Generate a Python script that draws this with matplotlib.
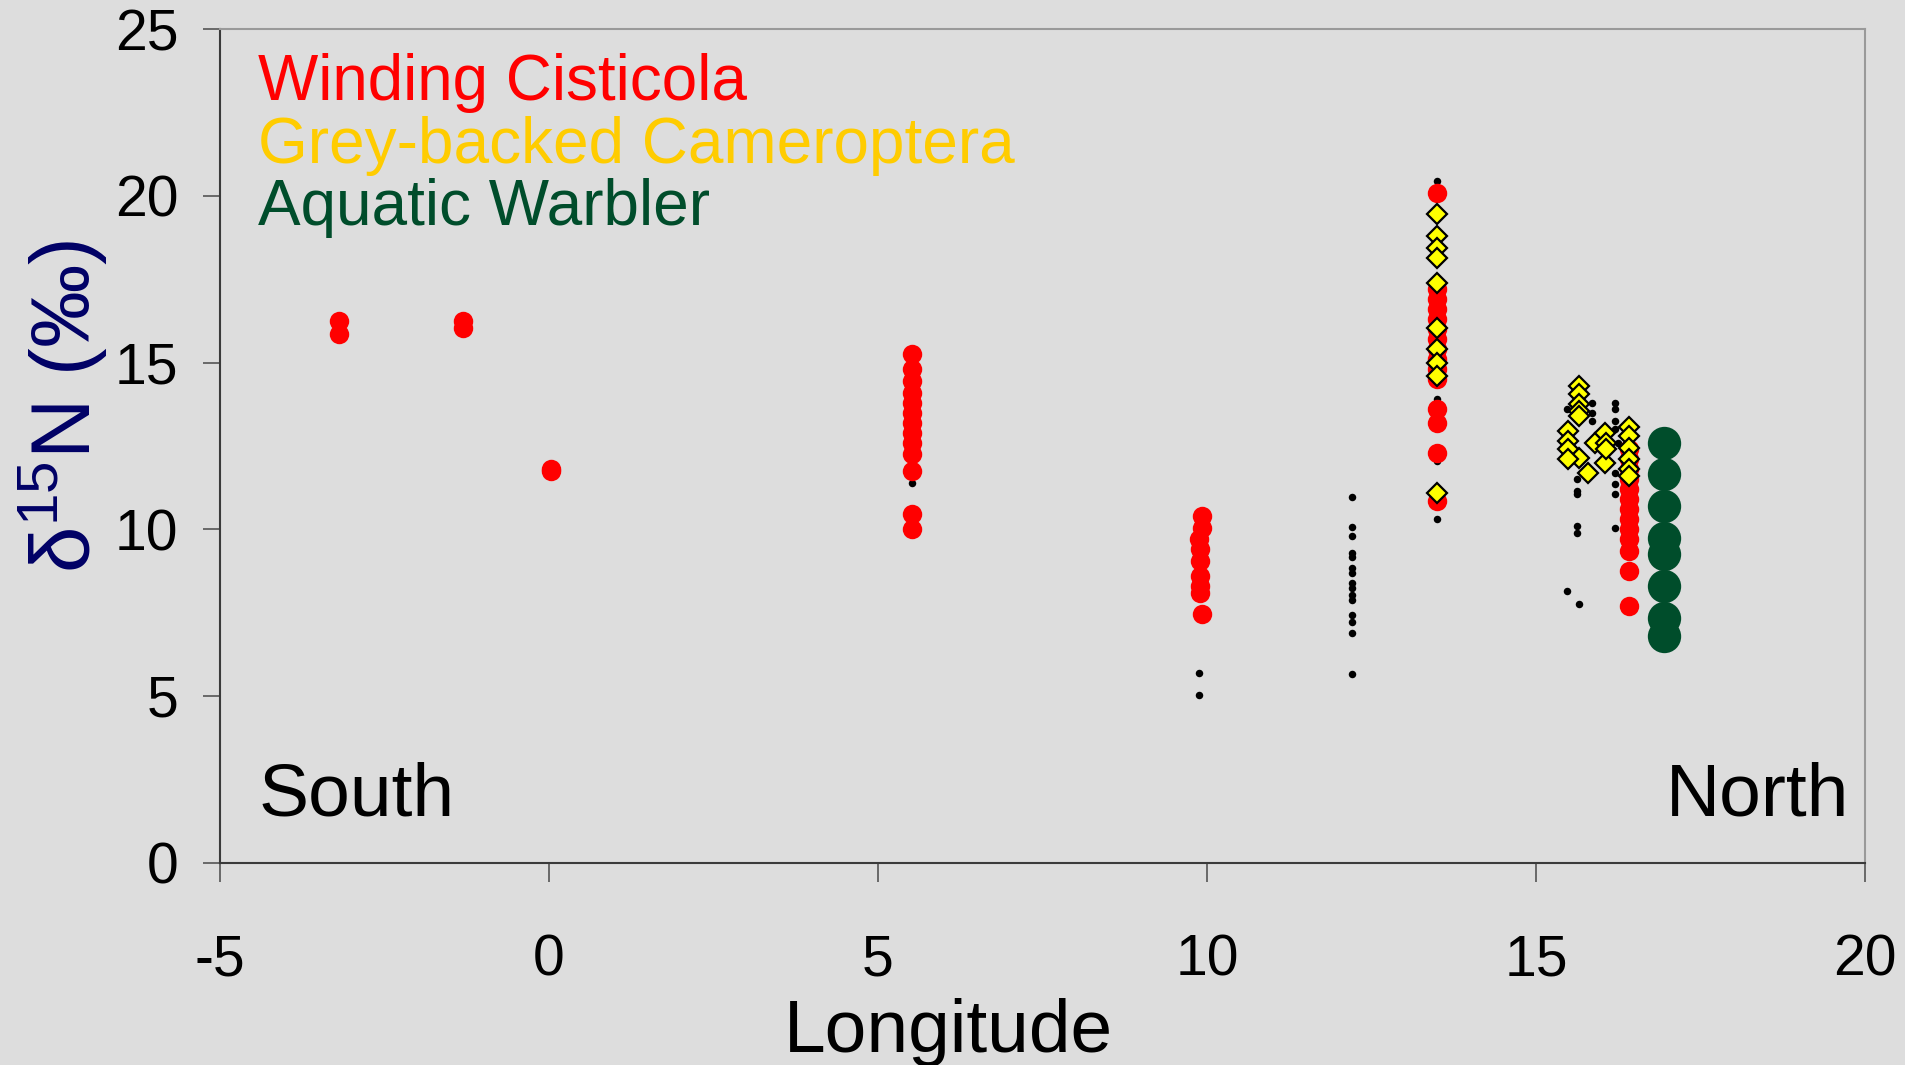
import matplotlib.pyplot as plt

plt.rcParams['font.family'] = ['Liberation Sans', 'DejaVu Sans']
plt.rcParams['mathtext.fontset'] = 'custom'
plt.rcParams['mathtext.rm'] = 'Liberation Sans'
plt.rcParams['axes.unicode_minus'] = False

# inne probki (czarne kropki)
black_lon = [13.5, 13.5, 13.5, 13.5, 5.52,
             9.88, 9.88,
             12.2, 12.2, 12.2, 12.2, 12.2, 12.2, 12.2, 12.2, 12.2, 12.2, 12.2, 12.2, 12.2, 12.2, 12.2,
             15.47, 15.85, 15.85, 15.85, 16.2, 16.2, 16.2, 16.2, 16.25,
             16.2, 16.2, 16.2, 16.2, 15.62, 15.62, 15.62, 15.62, 15.62, 15.47, 15.65]
black_d15n = [20.46, 13.9, 12.05, 10.3, 11.38,
              5.69, 5.04,
              10.98, 10.08, 9.8, 9.28, 9.16, 8.83, 8.68, 8.38, 8.23, 8.03, 7.88, 7.43, 7.21, 6.9, 5.66,
              13.6, 13.8, 13.5, 13.25, 13.8, 13.6, 13.25, 13.0, 12.6,
              11.7, 11.35, 11.05, 10.05, 11.5, 11.15, 11.05, 10.1, 9.9, 8.15, 7.75]

# Winding Cisticola
wc_lon = [-3.19, -3.19, -1.3, -1.3, 0.03, 0.03,
          5.52, 5.52, 5.52, 5.52, 5.52, 5.52, 5.52, 5.52, 5.52, 5.52, 5.52, 5.52, 5.52,
          9.92, 9.92, 9.88, 9.9, 9.9, 9.9, 9.9, 9.9, 9.92,
          13.5, 13.5, 13.5, 13.5, 13.5, 13.5, 13.5, 13.5, 13.5, 13.5, 13.5, 13.5, 13.5, 13.5, 13.5,
          16.42, 16.42, 16.42, 16.42, 16.42, 16.42, 16.42, 16.42, 16.42, 16.42, 16.42, 16.42, 16.42]
wc_d15n = [16.24, 15.87, 16.24, 16.04, 11.8, 11.75,
           15.25, 14.8, 14.45, 14.1, 13.8, 13.5, 13.2, 12.9, 12.6, 12.25, 11.75, 10.45, 10.0,
           10.4, 10.05, 9.7, 9.4, 9.05, 8.6, 8.3, 8.1, 7.46,
           20.1, 17.2, 16.9, 16.6, 16.3, 16.0, 15.7, 15.4, 15.1, 14.8, 14.5, 13.6, 13.2, 12.3, 10.85,
           12.4, 12.1, 11.8, 11.5, 11.2, 10.9, 10.6, 10.3, 10.0, 9.7, 9.35, 8.75, 7.7]

# Grey-backed Camaroptera
gb_lon = [13.5, 13.5, 13.5, 13.5, 13.5, 13.5, 13.5, 13.5, 13.5, 13.5,
          15.66, 15.66, 15.66, 15.66, 15.66, 15.66,
          15.48, 15.48, 15.48, 15.48,
          15.79, 15.9, 16.05, 16.05, 16.07, 16.07,
          16.42, 16.42, 16.42, 16.42, 16.42, 16.42]
gb_d15n = [19.45, 18.8, 18.45, 18.15, 17.4, 16.05, 15.4, 15.0, 14.6, 11.1,
           14.3, 14.05, 13.75, 13.55, 13.4, 12.15,
           12.95, 12.65, 12.4, 12.1,
           11.7, 12.58, 12.9, 12.0, 12.6, 12.4,
           13.08, 12.8, 12.45, 12.1, 11.8, 11.6]

# Aquatic Warbler
aw_lon = [16.95, 16.95, 16.95, 16.95, 16.95, 16.95, 16.95, 16.95]
aw_d15n = [12.6, 11.65, 10.7, 9.75, 9.25, 8.3, 7.35, 6.8]

x_ticks = [-5, 0, 5, 10, 15, 20]
y_ticks = [0, 5, 10, 15, 20, 25]

bg = '#dddddd'
fig = plt.figure(figsize=(19.05, 10.65), dpi=100, facecolor=bg)
ax = fig.add_axes([0.1155, 0.19, 0.8635, 0.7825], facecolor=bg)

ax.plot(black_lon, black_d15n, 'o', color='black', ms=5.4, mew=0)
ax.plot(wc_lon, wc_d15n, 'o', color='#ff0000', ms=14, mew=0)
ax.plot(gb_lon, gb_d15n, 'D', mfc='#ffff00', mec='black', ms=10.5, mew=1.6)
ax.plot(aw_lon, aw_d15n, 'o', color='#004d2b', ms=24, mew=0)

ax.set_xlim(-5, 20)
ax.set_ylim(0, 25)
ax.set_xticks(x_ticks)
ax.set_yticks(y_ticks)
ax.tick_params(axis='x', direction='out', length=14, width=1.2, color='#555555',
               labelsize=41, pad=37)
ax.tick_params(axis='y', direction='out', length=12, width=1.2, color='#555555',
               labelsize=41, pad=18)

for s in ['left', 'bottom']:
    ax.spines[s].set_color('#3a3a3a')
    ax.spines[s].set_linewidth(1.5)
for s in ['top', 'right']:
    ax.spines[s].set_color('#999999')
    ax.spines[s].set_linewidth(1.5)

# legenda jako kolorowy tekst
ax.text(258/1905, 1 - 100/1065, 'Winding Cisticola', transform=fig.transFigure,
        color='#ff0000', fontsize=46, va='baseline', ha='left')
ax.text(258/1905, 1 - 163/1065, 'Grey-backed Cameroptera', transform=fig.transFigure,
        color='#ffcc00', fontsize=46, va='baseline', ha='left')
ax.text(258/1905, 1 - 225/1065, 'Aquatic Warbler', transform=fig.transFigure,
        color='#004d2b', fontsize=46, va='baseline', ha='left')

ax.text(259/1905, 1 - 815/1065, 'South', transform=fig.transFigure,
        fontsize=54, va='baseline', ha='left')
ax.text(1849/1905, 1 - 815/1065, 'North', transform=fig.transFigure,
        fontsize=54, va='baseline', ha='right')

fig.text(948/1905, 1 - 1052/1065, 'Longitude', fontsize=54, ha='center', va='baseline')
fig.text(63/1905, 1 - 406/1065, 'δ$^{15}$N (‰)', fontsize=60, color='#000066',
         rotation=90, ha='center', va='center')

fig.savefig('out.png', dpi=100, facecolor=bg)
